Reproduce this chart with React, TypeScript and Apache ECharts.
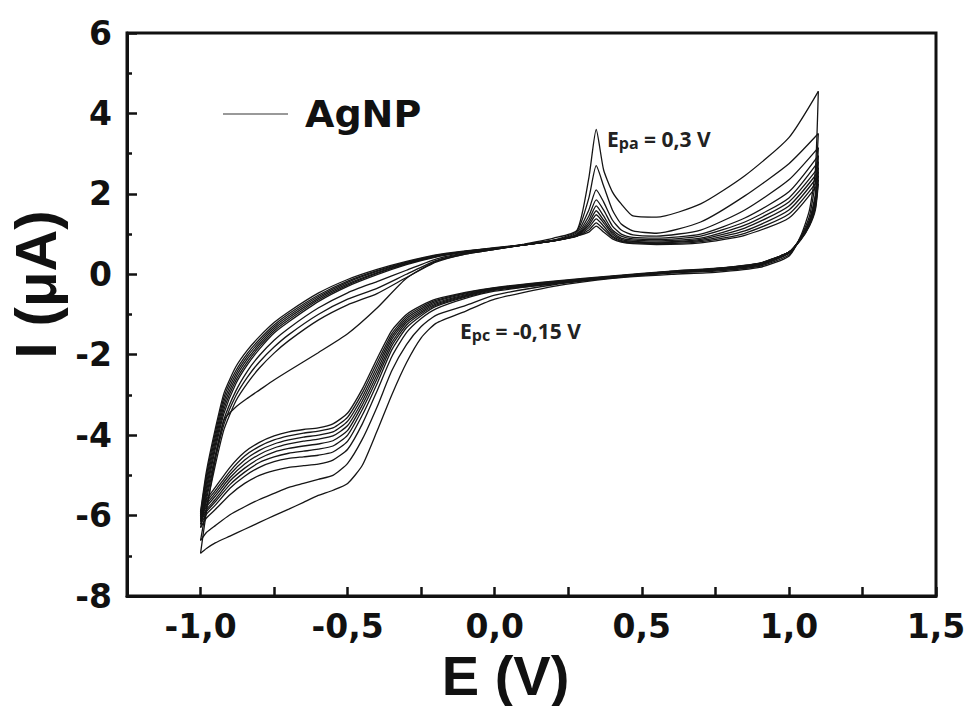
import React, { useEffect, useRef } from 'react';
import * as echarts from 'echarts';

// Potential grids (V)
const potentialForward = [-1.0, -0.98, -0.95, -0.92, -0.88, -0.84, -0.8, -0.75, -0.7, -0.6, -0.5, -0.4, -0.3, -0.2, -0.1, 0.0, 0.1, 0.2, 0.28, 0.32, 0.345, 0.37, 0.4, 0.43, 0.47, 0.55, 0.7, 0.85, 1.0, 1.1];
const potentialReverse = [1.1, 1.09, 1.07, 1.04, 1.0, 0.9, 0.75, 0.6, 0.4, 0.2, 0.0, -0.1, -0.2, -0.25, -0.3, -0.35, -0.4, -0.45, -0.5, -0.55, -0.6, -0.65, -0.7, -0.75, -0.8, -0.85, -0.9, -0.95, -0.98, -1.0];

// Currents (µA), anodic (forward) branches
const cycle1Forward = [-6.94, -5.9, -4.6, -3.62, -3.3, -3.08, -2.88, -2.63, -2.4, -1.95, -1.48, -0.84, -0.1, 0.32, 0.5, 0.62, 0.75, 0.9, 1.1, 2.4, 3.6, 2.6, 2.05, 1.75, 1.45, 1.42, 1.75, 2.45, 3.4, 4.55];
const cycle2Forward = [-6.62, -5.8, -4.75, -3.85, -3.15, -2.7, -2.33, -1.96, -1.65, -1.14, -0.76, -0.48, -0.08, 0.3, 0.5, 0.62, 0.73, 0.85, 1.08, 1.9, 2.7, 2.2, 1.6, 1.25, 1.08, 1.02, 1.3, 1.95, 2.75, 3.5];
const cycle3Forward = [-6.3, -5.6, -4.6, -3.72, -3.02, -2.55, -2.18, -1.81, -1.5, -1.0, -0.62, -0.35, 0.0, 0.34, 0.52, 0.62, 0.73, 0.84, 1.04, 1.6, 2.1, 1.8, 1.35, 1.1, 0.98, 0.95, 1.1, 1.6, 2.35, 3.15];
const cycle4Forward = [-6.22, -5.5, -4.5, -3.6, -2.9, -2.4, -2.02, -1.64, -1.34, -0.84, -0.46, -0.18, 0.1, 0.38, 0.53, 0.63, 0.73, 0.83, 1.0, 1.45, 1.85, 1.6, 1.2, 1.0, 0.92, 0.9, 1.0, 1.4, 2.05, 2.95];
const cycle5Forward = [-6.15, -5.4, -4.35, -3.45, -2.72, -2.24, -1.86, -1.46, -1.18, -0.68, -0.3, -0.01, 0.24, 0.43, 0.55, 0.64, 0.73, 0.83, 0.98, 1.35, 1.7, 1.45, 1.1, 0.95, 0.88, 0.86, 0.95, 1.3, 1.9, 2.8];
const cycle6Forward = [-6.1, -5.3, -4.25, -3.35, -2.64, -2.17, -1.8, -1.41, -1.13, -0.64, -0.27, 0.02, 0.26, 0.44, 0.56, 0.64, 0.73, 0.83, 0.97, 1.28, 1.58, 1.35, 1.05, 0.9, 0.85, 0.83, 0.9, 1.22, 1.8, 2.65];
const cycle7Forward = [-6.05, -5.2, -4.15, -3.25, -2.56, -2.1, -1.74, -1.36, -1.08, -0.6, -0.24, 0.04, 0.27, 0.45, 0.56, 0.64, 0.73, 0.83, 0.96, 1.22, 1.48, 1.28, 1.0, 0.87, 0.82, 0.8, 0.87, 1.15, 1.7, 2.55];
const cycle8Forward = [-6.0, -5.1, -4.05, -3.15, -2.48, -2.03, -1.68, -1.31, -1.03, -0.56, -0.2, 0.07, 0.29, 0.46, 0.57, 0.65, 0.73, 0.83, 0.95, 1.16, 1.38, 1.2, 0.95, 0.84, 0.8, 0.78, 0.84, 1.08, 1.6, 2.45];
const cycle9Forward = [-5.95, -5.0, -3.95, -3.05, -2.4, -1.96, -1.62, -1.26, -0.98, -0.52, -0.17, 0.09, 0.3, 0.47, 0.57, 0.65, 0.74, 0.84, 0.95, 1.1, 1.28, 1.12, 0.92, 0.82, 0.78, 0.76, 0.81, 1.02, 1.5, 2.35];
const cycle10Forward = [-5.9, -4.9, -3.85, -2.95, -2.3, -1.88, -1.55, -1.2, -0.93, -0.47, -0.13, 0.12, 0.32, 0.48, 0.58, 0.66, 0.74, 0.84, 0.96, 1.05, 1.2, 1.05, 0.88, 0.8, 0.76, 0.74, 0.78, 0.97, 1.4, 2.25];

// Currents (µA), cathodic (reverse) branches
const cycle1Reverse = [4.55, 2.6, 1.6, 0.95, 0.45, 0.17, 0.05, 0.0, -0.1, -0.3, -0.62, -0.92, -1.22, -1.58, -2.2, -3.0, -3.9, -4.75, -5.2, -5.37, -5.5, -5.67, -5.84, -6.0, -6.17, -6.34, -6.51, -6.68, -6.82, -6.94];
const cycle2Reverse = [3.5, 2.3, 1.45, 0.92, 0.48, 0.2, 0.08, 0.03, -0.09, -0.26, -0.52, -0.78, -1.02, -1.3, -1.75, -2.4, -3.3, -4.1, -4.7, -5.0, -5.1, -5.2, -5.3, -5.45, -5.6, -5.78, -5.98, -6.25, -6.42, -6.62];
const cycle3Reverse = [3.15, 2.0, 1.36, 0.9, 0.52, 0.22, 0.1, 0.04, -0.08, -0.24, -0.42, -0.6, -0.86, -1.1, -1.45, -2.05, -2.9, -3.72, -4.35, -4.62, -4.72, -4.76, -4.8, -4.88, -5.0, -5.2, -5.48, -5.85, -6.06, -6.3];
const cycle4Reverse = [2.95, 1.9, 1.32, 0.9, 0.53, 0.24, 0.11, 0.05, -0.07, -0.23, -0.4, -0.57, -0.8, -1.03, -1.33, -1.88, -2.72, -3.5, -4.15, -4.42, -4.5, -4.54, -4.58, -4.66, -4.8, -5.02, -5.32, -5.74, -5.97, -6.22];
const cycle5Reverse = [2.8, 1.85, 1.3, 0.9, 0.54, 0.25, 0.12, 0.05, -0.07, -0.22, -0.38, -0.55, -0.77, -0.98, -1.26, -1.78, -2.6, -3.36, -4.0, -4.27, -4.35, -4.4, -4.45, -4.54, -4.68, -4.92, -5.23, -5.66, -5.9, -6.15];
const cycle6Reverse = [2.65, 1.8, 1.28, 0.89, 0.55, 0.26, 0.13, 0.06, -0.06, -0.21, -0.37, -0.53, -0.74, -0.94, -1.2, -1.7, -2.5, -3.25, -3.88, -4.14, -4.22, -4.27, -4.33, -4.42, -4.58, -4.82, -5.14, -5.6, -5.85, -6.1];
const cycle7Reverse = [2.55, 1.75, 1.26, 0.88, 0.55, 0.26, 0.13, 0.06, -0.06, -0.2, -0.36, -0.51, -0.71, -0.9, -1.15, -1.62, -2.4, -3.15, -3.76, -4.02, -4.1, -4.15, -4.22, -4.32, -4.48, -4.72, -5.06, -5.52, -5.78, -6.05];
const cycle8Reverse = [2.45, 1.7, 1.24, 0.87, 0.55, 0.27, 0.14, 0.07, -0.05, -0.19, -0.35, -0.49, -0.68, -0.86, -1.1, -1.55, -2.3, -3.05, -3.65, -3.92, -4.0, -4.05, -4.12, -4.22, -4.38, -4.62, -4.98, -5.45, -5.72, -6.0];
const cycle9Reverse = [2.35, 1.65, 1.22, 0.86, 0.55, 0.27, 0.14, 0.07, -0.05, -0.18, -0.34, -0.47, -0.65, -0.82, -1.05, -1.48, -2.2, -2.95, -3.55, -3.82, -3.9, -3.95, -4.02, -4.12, -4.28, -4.52, -4.9, -5.38, -5.66, -5.95];
const cycle10Reverse = [2.25, 1.6, 1.2, 0.85, 0.55, 0.28, 0.15, 0.08, -0.04, -0.17, -0.33, -0.45, -0.62, -0.78, -1.0, -1.4, -2.1, -2.85, -3.45, -3.72, -3.82, -3.86, -3.92, -4.02, -4.18, -4.42, -4.8, -5.3, -5.6, -5.9];

// Axis ticks / labels
const xLabelValues = [-1.0, -0.5, 0.0, 0.5, 1.0, 1.5];
const xTickValues = [-1.0, -0.75, -0.5, -0.25, 0.0, 0.25, 0.5, 0.75, 1.0, 1.25, 1.5];

// Texts
const seriesName = 'AgNP';
const xTitle = 'E (V)';
const yTitle = 'I (μA)';

const cycles = [
  { f: cycle1Forward, r: cycle1Reverse },
  { f: cycle2Forward, r: cycle2Reverse },
  { f: cycle3Forward, r: cycle3Reverse },
  { f: cycle4Forward, r: cycle4Reverse },
  { f: cycle5Forward, r: cycle5Reverse },
  { f: cycle6Forward, r: cycle6Reverse },
  { f: cycle7Forward, r: cycle7Reverse },
  { f: cycle8Forward, r: cycle8Reverse },
  { f: cycle9Forward, r: cycle9Reverse },
  { f: cycle10Forward, r: cycle10Reverse },
];

const tickFont = 'DejaVu Sans';
const titleFont = 'Liberation Sans';
const noteFont = 'Open Sans';

const noteRich = {
  e: { fontSize: 21, fontWeight: 'bold', fontFamily: noteFont, fill: '#222', lineHeight: 25 },
  s: { fontSize: 16, fontWeight: 'bold', fontFamily: noteFont, fill: '#222', lineHeight: 25, verticalAlign: 'bottom' },
};

export default function App() {
  const ref = useRef<HTMLDivElement>(null);

  useEffect(() => {
    if (!ref.current) return;
    const chart = echarts.init(ref.current, null, { renderer: 'svg' });

    const series: any[] = [];
    cycles.forEach((c) => {
      const base = {
        type: 'line',
        name: seriesName,
        symbol: 'none',
        showSymbol: false,
        smooth: 0.2,
        silent: true,
        lineStyle: { color: '#151515', width: 1.3 },
      };
      series.push({ ...base, data: potentialForward.map((e, i) => [e, c.f[i]]) });
      series.push({ ...base, data: potentialReverse.map((e, i) => [e, c.r[i]]) });
    });

    const xLabelFmt = (v: number) => v.toFixed(1).replace('.', ',');
    const axisStroke = { color: '#111', width: 3 };

    chart.setOption({
      animation: false,
      backgroundColor: '#ffffff',
      grid: {
        left: 127, right: 31, top: 33, bottom: 110,
        containLabel: false, outerBoundsMode: 'none',
        show: true, borderColor: '#111', borderWidth: 3, backgroundColor: 'transparent',
      },
      legend: {
        data: [{ name: seriesName, icon: 'rect', itemStyle: { color: '#999999' }, lineStyle: { color: '#999999' } }],
        left: 218,
        top: 90,
        itemWidth: 65,
        itemHeight: 2,
        selectedMode: false,
        textStyle: { fontSize: 38, fontWeight: 'bold', fontFamily: tickFont, color: '#111', padding: [0, 0, 0, 12] },
      },
      xAxis: {
        type: 'value',
        min: -1.25,
        max: 1.5,
        interval: 0.25,
        position: 'bottom',
        name: xTitle,
        nameLocation: 'middle',
        nameGap: 51,
        nameTextStyle: { fontSize: 56, lineHeight: 56, fontWeight: 'bold', fontFamily: titleFont, color: '#111', padding: [0, 52, 0, 0] },
        axisLine: { show: true, onZero: false, lineStyle: axisStroke },
        axisTick: { show: true, inside: true, length: 9, customValues: xTickValues, lineStyle: { color: '#111', width: 2.5 } },
        axisLabel: { customValues: xLabelValues, formatter: xLabelFmt, fontSize: 33, fontWeight: 'bold', fontFamily: tickFont, color: '#111', margin: 14 },
        splitLine: { show: false },
      },
      yAxis: {
        type: 'value',
        min: -8,
        max: 6,
        interval: 2,
        position: 'left',
        name: yTitle,
        nameLocation: 'middle',
        nameGap: 52,
        nameTextStyle: { fontSize: 58, fontWeight: 'bold', fontFamily: titleFont, color: '#111', padding: [0, 0, 0, 60] },
        axisLine: { show: true, onZero: false, lineStyle: axisStroke },
        axisTick: { show: true, inside: true, length: 10, lineStyle: { color: '#111', width: 2.5 } },
        minorTick: { show: true, splitNumber: 2, length: 5, lineStyle: { color: '#111', width: 2.5 } },
        axisLabel: { fontSize: 33, fontWeight: 'bold', fontFamily: tickFont, color: '#111', margin: 15 },
        splitLine: { show: false },
      },
      graphic: [
        {
          type: 'text',
          left: 607,
          top: 128,
          style: { text: '{e|E}{s|pa}{e| = 0,3 V}', rich: noteRich },
        },
        {
          type: 'text',
          left: 460,
          top: 320,
          style: { text: '{e|E}{s|pc}{e| = -0,15 V}', rich: noteRich },
        },
      ],
      series,
    });

    return () => chart.dispose();
  }, []);

  return (
    <div
      ref={ref}
      style={{ position: 'fixed', left: 0, top: 0, width: 967, height: 706, background: '#fff' }}
    />
  );
}
